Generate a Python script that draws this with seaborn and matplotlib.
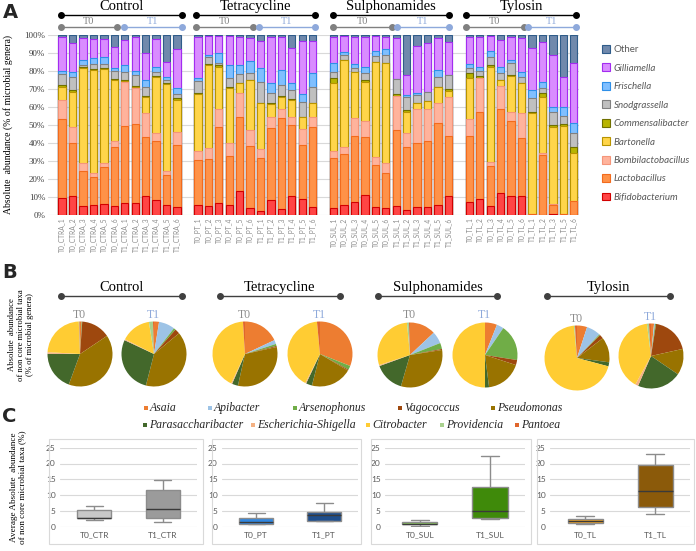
import matplotlib
matplotlib.use('Agg')
import matplotlib.pyplot as plt
from matplotlib.lines import Line2D
from matplotlib.patches import Patch, Rectangle
import seaborn as sns

W, H = 696, 551
SERIF = 'Liberation Serif'
SANS = 'Lato'

# ---------------- panel A: relative abundance per sample ----------------
# values are the upper boundary (cumulative %) of each genus in the stack
samples = (['T0_CTRA_%d' % i for i in range(1, 7)] + ['T1_CTRA_%d' % i for i in range(1, 7)]
           + ['T0_PT_%d' % i for i in range(1, 7)] + ['T1_PT_%d' % i for i in range(1, 7)]
           + ['T0_SUL_%d' % i for i in range(1, 7)] + ['T1_SUL_%d' % i for i in range(1, 7)]
           + ['T0_TL_1', 'T0_TL_2', 'T0_TL_3', 'T0_TL_4', 'T0_TL_5', 'T0_TL_6',
              'T1_TL_1', 'T1_TL_2', 'T1_TL_3', 'T1_TL_5', 'T1_TL_6'])
slots = list(range(0, 12)) + list(range(13, 25)) + list(range(26, 38)) + list(range(39, 50))

top_bifidobacterium = [9.1, 10.6, 4.8, 5.4, 5.9, 4.8, 6.7, 6.7, 10.6, 8.2, 5.4, 4.1,
                       5.4, 4.6, 6.5, 5.4, 13, 4, 1.8, 8.4, 3.2, 10.6, 8.7, 4.3,
                       3.5, 5.4, 6.9, 10.9, 4.1, 3.5, 5.1, 2.6, 4.4, 4.4, 5.4, 10.4,
                       7.2, 8.5, 4.8, 11.9, 10.6, 10.4, 0, 0, 0.5, 0, 0]
top_lactobacillus = [53, 40, 24.5, 21.1, 26.7, 37.8, 49.3, 50.2, 43.3, 41, 22, 39,
                     30.4, 30.7, 48.5, 32.6, 54.4, 38.1, 31.3, 48, 53.5, 49.8, 38.7, 48.9,
                     31.3, 33.7, 43.7, 43.3, 27.6, 23.3, 47, 37.8, 39.6, 41.1, 51.1, 43.7,
                     43.7, 56.9, 27, 58.5, 52.2, 42.4, 0.5, 33.1, 5.5, 0.5, 7.5]
top_bombilactobacillus = [63.7, 48.9, 28.5, 23, 28.9, 41, 73.9, 70.2, 56.3, 45.2, 24.4, 46.1,
                          35.6, 36.9, 59, 39.6, 67.4, 47, 36.3, 54.1, 58.5, 54.4, 47.4, 54.1,
                          35.6, 37.8, 53.5, 52.2, 31.9, 28.9, 65.9, 45.6, 58.5, 58.5, 62.2, 65.6,
                          53, 75.7, 29.4, 71.5, 57.2, 56.7, 0.5, 34.4, 6, 0.5, 7.5]
top_bartonella = [71.1, 68.3, 81.3, 80.4, 80.7, 74.8, 74.3, 70.7, 65.6, 76.3, 72.6, 63.7,
                  67, 83.1, 82.2, 70.2, 73, 74.8, 62.2, 61.3, 65.2, 63.7, 54.4, 61.9,
                  73.3, 85.9, 79.4, 73.9, 85, 84.4, 65.9, 57.2, 62.2, 63.3, 70.7, 68.9,
                  75.7, 75.7, 82.2, 74.8, 77, 73, 56.3, 65.6, 48.9, 49.3, 34.4]
top_commensalibacter = [72, 69.3, 82.2, 81, 81.3, 75.4, 74.8, 71.5, 66.1, 76.8, 73.3, 64.6,
                        67.8, 84, 83.1, 70.7, 73.3, 74.8, 62.2, 62, 66, 64.1, 54.4, 61.9,
                        75.7, 86.2, 79.4, 74.8, 85, 84.4, 66.9, 58.1, 62.2, 63.3, 70.7, 69.6,
                        78.9, 77, 83.1, 74.8, 77.6, 73.3, 57.2, 67.4, 49.8, 50.4, 37.8]
top_snodgrassella = [78.1, 76.7, 83.1, 83.7, 84, 80, 79.4, 77.6, 70.7, 79.4, 74.8, 66.9,
                     74.4, 87.4, 84.4, 75.7, 78.1, 78.5, 73.9, 67.8, 72, 69.3, 62.8, 70.7,
                     79.4, 88.5, 81.3, 78.9, 88.1, 88.7, 75.2, 65.6, 66.5, 68.3, 76.7, 77.6,
                     81.3, 79.8, 87.4, 78.9, 84.4, 76.7, 64.6, 70.2, 57.2, 54.8, 45.2]
top_frischella = [79.8, 79.4, 86, 86.9, 87.8, 81.3, 83.1, 80, 74.8, 82.2, 76.3, 70.2,
                  75.7, 88.7, 90, 83.1, 83.1, 85.4, 81.3, 73.3, 80.4, 73, 66.9, 78.9,
                  84.4, 90.6, 84, 82.2, 91.1, 91.9, 75.2, 66.5, 67.8, 68.3, 80.4, 77.6,
                  84, 82.2, 91.1, 82.2, 85.9, 79.4, 69.3, 73.9, 60, 59.6, 50.7]
top_gilliamella = [98.9, 95.6, 98, 97.4, 97.4, 93.3, 97, 98.9, 89.6, 97.4, 85, 91.9,
                   98.5, 99.3, 99.3, 99.3, 98.5, 97.9, 96.7, 98.5, 98.5, 92.4, 96.7, 96.7,
                   98.9, 99.3, 98.5, 98.5, 99.3, 98.5, 97.9, 77.6, 93.7, 95.6, 97.9, 96.1,
                   98.5, 98.9, 99.3, 97, 98.5, 97.9, 92.4, 96.1, 88.7, 76.7, 84.1]
top_other = [100] * 47

genera = ['Bifidobacterium', 'Lactobacillus', 'Bombilactobacillus', 'Bartonella',
          'Commensalibacter', 'Snodgrassella', 'Frischella', 'Gilliamella', 'Other']
tops = [top_bifidobacterium, top_lactobacillus, top_bombilactobacillus, top_bartonella,
        top_commensalibacter, top_snodgrassella, top_frischella, top_gilliamella, top_other]
fills = ['#FF4545', '#FF9248', '#FFB39C', '#FFD54A', '#B8B400',
         '#C0C0C0', '#80BFFF', '#D98CFF', '#7089AC']
edges = ['#D20000', '#F26B1D', '#F5957A', '#B89400', '#707000',
         '#808080', '#2E8FE8', '#A32CF0', '#2F5C8A']

# ---------------- panel B: non core taxa (pies) ----------------
taxa = ['Asaia', 'Apibacter', 'Arsenophonus', 'Vagococcus', 'Pseudomonas',
        'Parasaccharibacter', 'Escherichia-Shigella', 'Citrobacter', 'Providencia', 'Pantoea']
taxa_colors = ['#ED7D31', '#9DC3E6', '#70AD47', '#9E480E', '#997300',
               '#43682B', '#F4B183', '#FFCC33', '#A9D18E', '#E0662C']
pie_ctr_t0 = [0.8, 0, 0.3, 14.5, 40, 19.5, 0.8, 23.5, 0.3, 0.3]
pie_ctr_t1 = [2.5, 8, 1, 2.5, 40, 28, 0.5, 15, 2, 0.5]
pie_pt_t0 = [18, 2, 1, 0.5, 32, 3, 0.5, 42, 0, 1]
pie_pt_t1 = [31, 0, 2, 0.5, 20.5, 3, 0.5, 41, 0, 1.5]
pie_sul_t0 = [13, 6, 3, 0.5, 32, 15, 0.5, 28.5, 1, 0.5]
pie_sul_t1 = [6, 3.5, 18, 2.5, 18, 2, 0, 50, 0, 0]
pie_tl_t0 = [5, 7, 0.5, 2, 12.5, 2, 0, 69, 0.5, 1]
pie_tl_t1 = [1.5, 0.5, 0.5, 19, 13, 22, 1.5, 40, 1, 1]

# ---------------- panel C: average abundance of non core taxa (%) ----------------
box_ctr = {'T0_CTR': [2.1, 2.6, 2.9, 5.3, 6.6], 'T1_CTR': [1.4, 2.6, 5.5, 11.6, 14.8]}
box_pt = {'T0_PT': [0.7, 0.8, 1.6, 2.7, 4.3], 'T1_PT': [1.7, 1.7, 3.6, 4.8, 7.6]}
box_sul = {'T0_SUL': [0.1, 0.7, 1.0, 1.6, 2.2], 'T1_SUL': [2.4, 2.6, 5.1, 12.5, 22.4]}
box_tl = {'T0_TL': [1.0, 1.2, 1.8, 2.5, 3.3], 'T1_TL': [4.0, 6.1, 11.3, 19.5, 23.1]}


def fx(px):
    return px / W


def fy(py):
    return 1 - py / H


def add_ax(x0, y0, x1, y1):
    return fig.add_axes([fx(x0), fy(y1), (x1 - x0) / W, (y1 - y0) / H])


def hline(x0, x1, y, color, ms=4, lw=1.0):
    fig.add_artist(Line2D([fx(x0), fx(x1)], [fy(y), fy(y)], transform=fig.transFigure,
                          color=color, lw=lw, marker='o', markersize=ms))


def ftext(x, y, s, **kw):
    fig.text(fx(x), fy(y), s, ha=kw.pop('ha', 'center'), va=kw.pop('va', 'center'), **kw)


sns.set_theme(style='white')
fig = plt.figure(figsize=(W / 100, H / 100), dpi=100)

# ================= A =================
axA = add_ax(48, 34.7, 579, 214.7)
axA.yaxis.grid(True, color='#D9D9D9', lw=0.8)
axA.set_axisbelow(True)
for top, fc, ec in reversed(list(zip(tops, fills, edges))):
    sns.barplot(x=slots, y=top, native_scale=True, orient='x', width=0.7, color=fc,
                edgecolor=ec, linewidth=0.8, saturation=1, errorbar=None, ax=axA)
axA.set_xlim(-1.35, 49.5)
axA.set_ylim(0, 100)
axA.set_yticks(range(0, 101, 10))
axA.set_yticklabels(['%d%%' % v for v in range(0, 101, 10)], fontsize=6.5,
                    family=SERIF, color='#404040')
axA.set_xticks(slots)
axA.set_xticklabels(samples, rotation=90, fontsize=4.8, family=SANS, color='#8C8C8C')
axA.tick_params(length=0, pad=2)
sns.despine(ax=axA, left=True, bottom=True)
axA.set_xlabel('')
axA.set_ylabel('')

handles = [Patch(facecolor=fc, edgecolor=ec, lw=0.8) for fc, ec in zip(fills, edges)][::-1]
legA = fig.legend(handles, genera[::-1], loc='upper left', bbox_to_anchor=(fx(598), fy(41)),
                  frameon=False, handlelength=0.85, handleheight=0.85, handletextpad=0.35,
                  labelspacing=0.95, borderaxespad=0,
                  prop={'family': SANS, 'size': 7, 'style': 'italic'})
for t in legA.get_texts():
    t.set_color('#595959')
    if t.get_text() == 'Other':
        t.set_style('normal')

# headers A
headerA = [('Control', 61, 182, 117, 124), ('Tetracycline', 196, 315, 253, 259),
           ('Sulphonamides', 333, 449, 392, 397), ('Tylosin', 466, 576, 524, 528)]
for name, x0, x1, t0end, t1start in headerA:
    ftext((x0 + x1) / 2, 6.5, name, family=SERIF, fontsize=10.5, color='black')
    hline(x0, x1, 15, 'black', ms=4)
    hline(x0, t0end, 27, '#808080', ms=4)
    hline(t1start, x1, 27, '#8EA9DB', ms=4)
    ftext((x0 + t0end) / 2, 21, 'T0', family=SERIF, fontsize=7.5, color='#808080')
    ftext((t1start + x1) / 2, 21, 'T1', family=SERIF, fontsize=7.5, color='#8EA9DB')

ftext(8, 124, 'Absolute  abundance (% of microbial genera)', rotation=90,
      family=SERIF, fontsize=7, color='black')
ftext(10, 12, 'A', fontsize=14, fontweight='bold', family='DejaVu Sans')

# ================= B =================
headerB = [('Control', 61, 182), ('Tetracycline', 220, 340),
           ('Sulphonamides', 378, 497), ('Tylosin', 547, 670)]
for name, x0, x1 in headerB:
    ftext((x0 + x1) / 2, 287, name, family=SERIF, fontsize=10.5, color='black')
    hline(x0, x1, 296, '#404040', ms=4)

pies = [(pie_ctr_t0, 80, 354, 'T0'), (pie_ctr_t1, 154, 354, 'T1'),
        (pie_pt_t0, 245, 354, 'T0'), (pie_pt_t1, 320, 354, 'T1'),
        (pie_sul_t0, 410, 355, 'T0'), (pie_sul_t1, 485, 355, 'T1'),
        (pie_tl_t0, 577, 358, 'T0'), (pie_tl_t1, 651, 356, 'T1')]
R = 32.5
for vals, cx, cy, lab in pies:
    ax = add_ax(cx - R, cy - R, cx + R, cy + R)
    ax.pie(vals, colors=taxa_colors, startangle=90, counterclock=False, radius=1,
           wedgeprops={'linewidth': 0})
    ax.set_xlim(-1, 1)
    ax.set_ylim(-1, 1)
    ax.set_aspect('equal')
    ax.axis('off')
    ftext(cx - 1, cy - R - 7, lab, family=SERIF, fontsize=8.5,
          color='#8C8C8C' if lab == 'T0' else '#8EA9DB')

legB = [(146, 408), (210, 408), (295, 408), (400, 408), (493, 408),
        (145, 425), (253, 425), (368, 425), (442, 425), (517, 425)]
for (x, y), name, c in zip(legB, taxa, taxa_colors):
    fig.add_artist(Rectangle((fx(x - 2), fy(y + 2)), 4 / W, 4 / H, transform=fig.transFigure,
                             facecolor=c, edgecolor='none'))
    ftext(x + 4, y, name, ha='left', family=SERIF, style='italic', fontsize=8.5, color='#262626')

ftext(21, 335, 'Absolute  abundance\nof non core microbial taxa\n(% of microbial genera)',
      rotation=90, family=SERIF, fontsize=6.2, linespacing=1.2, color='black')
ftext(10, 272, 'B', fontsize=14, fontweight='bold', family='DejaVu Sans')

# ================= C =================
boxes = [(box_ctr, ['#C8C8C8', '#9B9B9B'], (49, 203), (60, 197)),
         (box_pt, ['#2F86E0', '#1F4E8C'], (212, 361), (222, 358)),
         (box_sul, ['#86D64B', '#3F8A0A'], (371, 531), (385, 525)),
         (box_tl, ['#F5A623', '#8B5A0A'], (537, 694), (550, 690))]
for data, pal, frame, area in boxes:
    fig.add_artist(Rectangle((fx(frame[0]), fy(544)), (frame[1] - frame[0]) / W, 105 / H,
                             transform=fig.transFigure, fill=False, edgecolor='#D9D9D9', lw=0.8))
    ax = add_ax(area[0], 447.7, area[1], 526.7)
    xs, ys = [], []
    for k, v in data.items():
        xs += [k] * len(v)
        ys += v
    ax.yaxis.grid(True, color='#D9D9D9', lw=0.8)
    ax.set_axisbelow(True)
    sns.boxplot(x=xs, y=ys, hue=xs, palette=pal, legend=False, width=0.5, saturation=1,
                linecolor='#8C8C8C', linewidth=1.0, ax=ax,
                medianprops={'color': '#3A3A3A', 'linewidth': 1.0})
    ax.set_ylim(0, 25)
    ax.set_xlim(-0.5, 1.5)
    ax.set_yticks(range(0, 26, 5))
    ax.tick_params(length=0, pad=3, labelsize=6, labelcolor='#595959')
    for t in ax.get_xticklabels() + ax.get_yticklabels():
        t.set_family(SANS)
    sns.despine(ax=ax, left=True, bottom=True)
    ax.set_xlabel('')
    ax.set_ylabel('')

ftext(18, 487, 'Average Absolute  abundance\nof non core microbial taxa (%)', rotation=90,
      family=SERIF, fontsize=6.6, linespacing=1.15, color='black')
ftext(9, 416, 'C', fontsize=14, fontweight='bold', family='DejaVu Sans')

fig.savefig('out.png', dpi=100)
